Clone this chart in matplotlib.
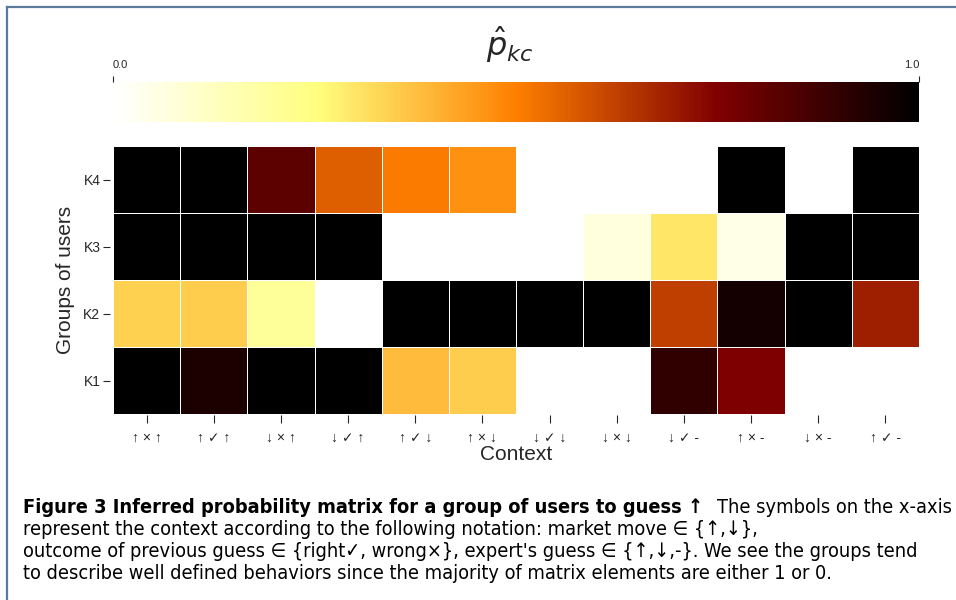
import matplotlib
matplotlib.use('Agg')
import matplotlib.pyplot as plt
from matplotlib.lines import Line2D
import numpy as np

# contexts: market move, outcome of previous guess, expert's guess
contexts = ['↑ × ↑', '↑ ✓ ↑', '↓ × ↑', '↓ ✓ ↑', '↑ ✓ ↓', '↑ × ↓',
            '↓ ✓ ↓', '↓ × ↓', '↓ ✓ -', '↑ × -', '↓ × -', '↑ ✓ -']
groups = ['K1', 'K2', 'K3', 'K4']

# estimated p_kc for each group (read from the colours)
p_k1 = [1.0, 0.945, 1.0, 1.0, 0.385, 0.35, 0.0, 0.0, 0.905, 0.75, 0.0, 0.0]
p_k2 = [0.34, 0.35, 0.20, 0.0, 1.0, 1.0, 1.0, 1.0, 0.625, 0.96, 1.0, 0.69]
p_k3 = [1.0, 1.0, 1.0, 1.0, 0.0, 0.0, 0.0, 0.07, 0.30, 0.05, 1.0, 1.0]
p_k4 = [1.0, 1.0, 0.82, 0.565, 0.51, 0.465, 0.0, 0.0, 0.0, 1.0, 0.0, 1.0]

values = np.array([p_k1, p_k2, p_k3, p_k4])

plt.rcParams['font.family'] = ['Liberation Sans', 'DejaVu Sans']
text_col = '#262626'

W, H = 956, 600
fig = plt.figure(figsize=(W / 100, H / 100), dpi=100)


def px_box(x0, y0, x1, y1):
    return [x0 / W, 1 - y1 / H, (x1 - x0) / W, (y1 - y0) / H]


# heatmap
ax = fig.add_axes(px_box(113, 146, 919, 414))
mesh = ax.pcolormesh(values, cmap='afmhot_r', vmin=0, vmax=1,
                     edgecolors='white', linewidth=0.7)
ax.set_xlim(0, len(contexts))
ax.set_ylim(0, len(groups))
ax.set_xticks(np.arange(len(contexts)) + 0.5)
ax.set_xticklabels(contexts, family=['DejaVu Sans'], fontsize=9)
ax.set_yticks(np.arange(len(groups)) + 0.5)
ax.set_yticklabels(groups, fontsize=10.5)
for s in ax.spines.values():
    s.set_visible(False)
ax.spines['left'].set_position(('outward', 2))
ax.spines['bottom'].set_position(('outward', 1))
ax.tick_params(axis='x', length=6, width=0.8, pad=5, colors=text_col)
ax.tick_params(axis='y', length=5, width=0.8, pad=2, colors=text_col)
ax.set_xlabel('Context', fontsize=15, color=text_col, labelpad=0)
ax.set_ylabel('Groups of users', fontsize=15, color=text_col, labelpad=6)

# colorbar on top
cax = fig.add_axes(px_box(113, 82, 919, 122))
cb = fig.colorbar(mesh, cax=cax, orientation='horizontal', ticks=[0, 1])
cb.outline.set_visible(False)
cax.xaxis.set_ticks_position('top')
cax.tick_params(axis='x', length=4, width=0.8, pad=5, labelsize=8, colors=text_col)
cax.set_xticklabels(['0.0', '1.0'])
lbls = cax.get_xticklabels()
lbls[0].set_ha('left')
lbls[1].set_ha('right')
fig.text(510 / W, 1 - 45 / H, r'$\hat{p}_{kc}$', fontsize=23,
         ha='center', va='center', color=text_col)

# frame lines
frame_col = '#5b7a9c'
fig.add_artist(Line2D([7 / W, 1], [1 - 7 / H, 1 - 7 / H], color=frame_col, lw=1.6))
fig.add_artist(Line2D([7 / W, 7 / W], [0, 1 - 7 / H], color=frame_col, lw=1.6))

# caption
cap_font = ['DejaVu Sans']
cap_size = 14.3
x0 = 23 / W
bold = fig.text(x0, 1 - 513 / H,
                'Figure 3 Inferred probability matrix for a group of users to guess ↑',
                fontsize=cap_size, fontweight='bold', family=cap_font,
                fontstretch='condensed', color='black', va='baseline')
fig.canvas.draw()
bb = bold.get_window_extent()
fig.text((bb.x1 + 14) / W, 1 - 513 / H, 'The symbols on the x-axis',
         fontsize=cap_size, family=cap_font, fontstretch='condensed',
         color='black', va='baseline')
caption_lines = [
    'represent the context according to the following notation: market move ∈ {↑,↓},',
    "outcome of previous guess ∈ {right✓, wrong×}, expert's guess ∈ {↑,↓,-}. We see the groups tend",
    'to describe well defined behaviors since the majority of matrix elements are either 1 or 0.',
]
for i, line in enumerate(caption_lines):
    fig.text(x0, 1 - (535 + 22 * i) / H, line, fontsize=cap_size,
             family=cap_font, fontstretch='condensed', color='black',
             va='baseline')

fig.savefig('out.png', dpi=100)
